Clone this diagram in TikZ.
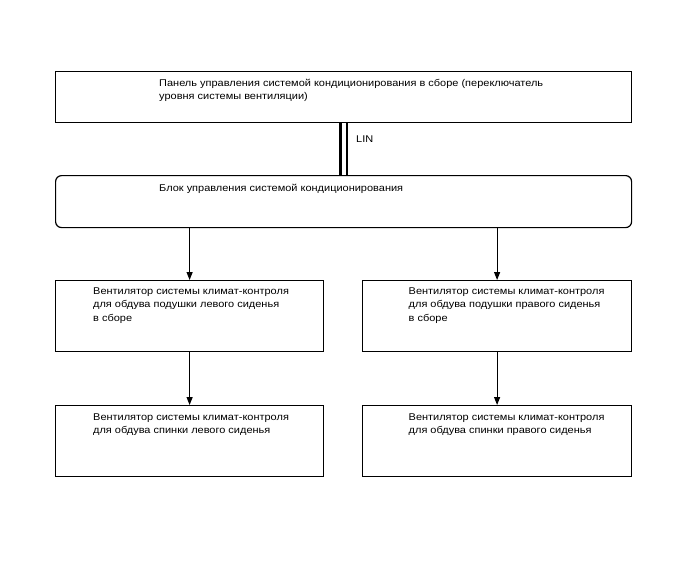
\documentclass[tikz,border=0pt]{standalone}
\usepackage{fontspec}
\setmainfont[FakeStretch=1.12]{Liberation Sans}
\usepackage{tikz}
\usetikzlibrary{arrows.meta,calc,positioning}
\tikzset{
  wire/.style      = {line width=1.2pt},
  box/.style       = {draw, line width=1.2pt, inner sep=0pt, fill=white},
  roundbox/.style  = {box, rounded corners=6pt},
  boxtext/.style   = {font=\fontsize{9.8}{13.5}\selectfont, align=left,
                      inner sep=0pt, anchor=north west,
                      execute at begin node=\strut},
  flow/.style      = {-{Triangle[length=8pt,width=6pt]}, line width=1.2pt},
}

\begin{document}
\begin{tikzpicture}[x=1pt,y=-1pt]
  \useasboundingbox (0,0) rectangle (688,560);

  % ---------------- panel and control unit --------------------------------
  \node[box,anchor=north west,minimum width=576pt,minimum height=51pt] (panel) at (55,71) {};
  \node[boxtext] (panelTxt) at (159,79)
        {Панель управления системой кондиционирования в сборе (переключатель\\уровня системы вентиляции)};

  \node[roundbox,anchor=north west,minimum width=576pt,minimum height=52pt] (ecu) at (55,175) {};
  \node[boxtext] (ecuTxt) at (159,181.5) {Блок управления системой кондиционирования};

  % ---------------- LIN bus -----------------------------------------------
  \draw[line width=3pt] ([xshift=-3.2pt]panel.south) -- ([xshift=-3.2pt]ecu.north);
  \draw[wire] ([xshift=3.3pt]panel.south) -- ([xshift=3.3pt]ecu.north);
  \node[boxtext] (lin) at (356,133) {LIN};

  % ---------------- seat fans ---------------------------------------------
  \node[box,anchor=north west,minimum width=268pt,minimum height=71pt] (cushL) at (55,280) {};
  \node[boxtext] (cushLTxt) at (93,287.3)
        {Вентилятор системы климат-контроля\\для обдува подушки левого сиденья\\в сборе};

  \node[box,anchor=north west,minimum width=269pt,minimum height=71pt] (cushR) at (362,280) {};
  \node[boxtext] (cushRTxt) at (408.5,287.3)
        {Вентилятор системы климат-контроля\\для обдува подушки правого сиденья\\в сборе};

  \node[box,anchor=north west,minimum width=268pt,minimum height=71pt] (backL) at (55,405) {};
  \node[boxtext] (backLTxt) at (93,413.5)
        {Вентилятор системы климат-контроля\\для обдува спинки левого сиденья};

  \node[box,anchor=north west,minimum width=269pt,minimum height=71pt] (backR) at (362,405) {};
  \node[boxtext] (backRTxt) at (408.5,413.5)
        {Вентилятор системы климат-контроля\\для обдува спинки правого сиденья};

  % ---------------- arrows ------------------------------------------------
  \draw[flow] (cushL.north |- ecu.south) -- (cushL.north);
  \draw[flow] (cushR.north |- ecu.south) -- (cushR.north);
  \draw[flow] (cushL.south) -- (backL.north);
  \draw[flow] (cushR.south) -- (backR.north);
\end{tikzpicture}
\end{document}
